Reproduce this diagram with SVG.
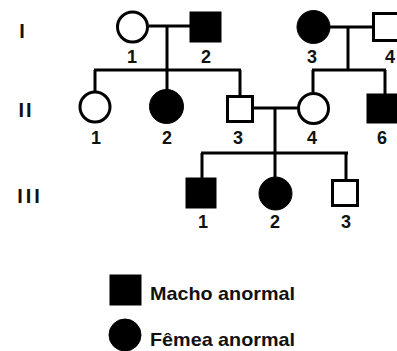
<svg xmlns="http://www.w3.org/2000/svg" width="397" height="351" viewBox="0 0 397 351">
  <style>
    .line { stroke: #000; stroke-width: 3; fill: none; }
    .open { fill: #fff; stroke: #000; stroke-width: 3; }
    .filled { fill: #000; stroke: #000; stroke-width: 1; }
    .num { font-family: "Liberation Sans", Arial, sans-serif; font-weight: bold; font-size: 18px; text-anchor: middle; fill: #111; }
    .gen { font-family: "Liberation Sans", Arial, sans-serif; font-weight: bold; font-size: 20px; text-anchor: middle; fill: #111; }
    .legend { font-family: "Liberation Sans", Arial, sans-serif; font-weight: bold; font-size: 19px; fill: #111; }
  </style>
  <rect width="397" height="351" fill="#fff"/>

  <!-- generation labels -->
  <g id="generations">
    <text class="gen" x="22" y="38">I</text>
    <text class="gen" x="26" y="117" letter-spacing="2">II</text>
    <text class="gen" x="30" y="203" letter-spacing="3">III</text>
  </g>

  <!-- connectors: mating lines, descent lines, sibship lines -->
  <g id="connectors" class="line">
    <line x1="149" y1="26" x2="190" y2="26"/>
    <line x1="167" y1="26" x2="167" y2="70"/>
    <line x1="94" y1="70" x2="241" y2="70"/>
    <line x1="95" y1="70" x2="95" y2="92"/>
    <line x1="167" y1="70" x2="167" y2="90"/>
    <line x1="240" y1="70" x2="240" y2="96"/>

    <line x1="330" y1="27" x2="373" y2="27"/>
    <line x1="348" y1="27" x2="348" y2="70"/>
    <line x1="312" y1="70" x2="386" y2="70"/>
    <line x1="313" y1="70" x2="313" y2="93"/>
    <line x1="385" y1="70" x2="385" y2="94"/>

    <line x1="253" y1="108" x2="298" y2="108"/>
    <line x1="275" y1="108" x2="275" y2="153"/>
    <line x1="201" y1="153" x2="348" y2="153"/>
    <line x1="202" y1="153" x2="202" y2="178"/>
    <line x1="275" y1="153" x2="275" y2="177"/>
    <line x1="346" y1="153" x2="346" y2="180"/>
  </g>

  <!-- generation I -->
  <g id="I-1">
    <circle class="open" cx="132.5" cy="27" r="15"/>
    <text class="num" x="132" y="63">1</text>
  </g>
  <g id="I-2">
    <rect class="filled" x="190" y="12" width="31" height="30"/>
    <text class="num" x="206" y="63">2</text>
  </g>
  <g id="I-3">
    <circle class="filled" cx="313.5" cy="27" r="16.5"/>
    <text class="num" x="312" y="63">3</text>
  </g>
  <g id="I-4">
    <rect class="open" x="373.5" y="13.5" width="28" height="27"/>
    <text class="num" x="390" y="63">4</text>
  </g>

  <!-- generation II -->
  <g id="II-1">
    <circle class="open" cx="95" cy="107" r="15"/>
    <text class="num" x="96" y="144">1</text>
  </g>
  <g id="II-2">
    <circle class="filled" cx="166.5" cy="106.5" r="17"/>
    <text class="num" x="167" y="144">2</text>
  </g>
  <g id="II-3">
    <rect class="open" x="227.5" y="96.5" width="25" height="25"/>
    <text class="num" x="238" y="144">3</text>
  </g>
  <g id="II-4">
    <circle class="open" cx="313.5" cy="108.5" r="15"/>
    <text class="num" x="312" y="144">4</text>
  </g>
  <g id="II-6">
    <rect class="filled" x="367" y="94" width="31" height="29"/>
    <text class="num" x="382" y="144">6</text>
  </g>

  <!-- generation III -->
  <g id="III-1">
    <rect class="filled" x="186" y="178" width="30" height="30"/>
    <text class="num" x="203" y="228">1</text>
  </g>
  <g id="III-2">
    <circle class="filled" cx="275.5" cy="193.5" r="16.5"/>
    <text class="num" x="275" y="228">2</text>
  </g>
  <g id="III-3">
    <rect class="open" x="332.5" y="180.5" width="25" height="25"/>
    <text class="num" x="346" y="228">3</text>
  </g>

  <!-- legend -->
  <g id="legend-male">
    <rect class="filled" x="110" y="275" width="31" height="30"/>
    <text class="legend" x="150" y="300" textLength="145" lengthAdjust="spacingAndGlyphs">Macho anormal</text>
  </g>
  <g id="legend-female">
    <circle class="filled" cx="125" cy="335" r="16"/>
    <text class="legend" x="150" y="346" textLength="145" lengthAdjust="spacingAndGlyphs">Fêmea anormal</text>
  </g>
</svg>
